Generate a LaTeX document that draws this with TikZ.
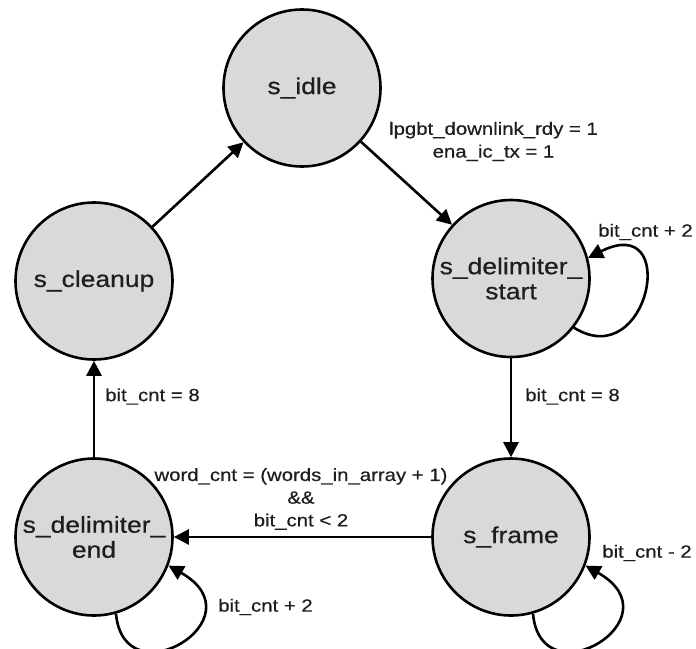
\documentclass[tikz,border=0pt]{standalone}
\usepackage{fontspec}
\setmainfont[FakeStretch=1.15,FakeBold=0.6]{Liberation Sans}
\usetikzlibrary{arrows.meta}
\definecolor{statefill}{RGB}{217,217,217}
\definecolor{ink}{RGB}{30,30,30}
\begin{document}
\begin{tikzpicture}[x=1pt,y=-1pt,
  state/.style={circle,draw=black,line width=2.6pt,fill=statefill,
    minimum size=157pt,inner sep=0pt,align=center,
    font=\fontsize{23}{25}\selectfont,text=ink},
  edgelabel/.style={align=center,inner sep=0pt,
    font=\fontsize{17.7}{22.7}\selectfont,text=ink},
  trans/.style={line width=2.6pt,draw=black,
    -{Triangle[length=15pt,width=15pt]}}]
\useasboundingbox (0,0) rectangle (696,648);

% states
\node[state] (idle)    at (302,88)    {s\_idle};
\node[state] (dstart)  at (511,278.5) {s\_delimiter\_\\start};
\node[state] (cleanup) at (94,281)    {s\_cleanup};
\node[state] (dend)    at (94,537)    {s\_delimiter\_\\end};
\node[state] (frame)   at (511,537)   {s\_frame};

% transitions between states
\draw[trans] (cleanup) -- (idle);
\draw[trans] (idle) -- (dstart);
\draw[trans] (dstart) -- (frame);
\draw[trans] (frame) -- (dend);
\draw[trans] (dend) -- (cleanup);

% self loops
\draw[trans] (dstart.-38) .. controls +(75,47) and +(93,-47) .. (dstart.15);
\draw[trans] (frame.-74) .. controls +(8,87) and +(93,53) .. (frame.-21);
\draw[trans] (dend.-74) .. controls +(8,87) and +(93,53) .. (dend.-21);

% transition conditions
\node[edgelabel] (cIdle)   at (493.5,141.5) {lpgbt\_downlink\_rdy = 1\\ena\_ic\_tx = 1};
\node[edgelabel] (cStartL) at (645.5,232)   {bit\_cnt + 2};
\node[edgelabel] (cStart)  at (572.5,396.5) {bit\_cnt = 8};
\node[edgelabel] (cEnd)    at (152.5,396.5) {bit\_cnt = 8};
\node[edgelabel] (cFrame)  at (301,499)     {word\_cnt = (words\_in\_array + 1)\\\&\&\\bit\_cnt < 2};
\node[edgelabel] (cFrameL) at (647,553)     {bit\_cnt - 2};
\node[edgelabel] (cEndL)   at (265.5,607)   {bit\_cnt + 2};
\end{tikzpicture}
\end{document}
